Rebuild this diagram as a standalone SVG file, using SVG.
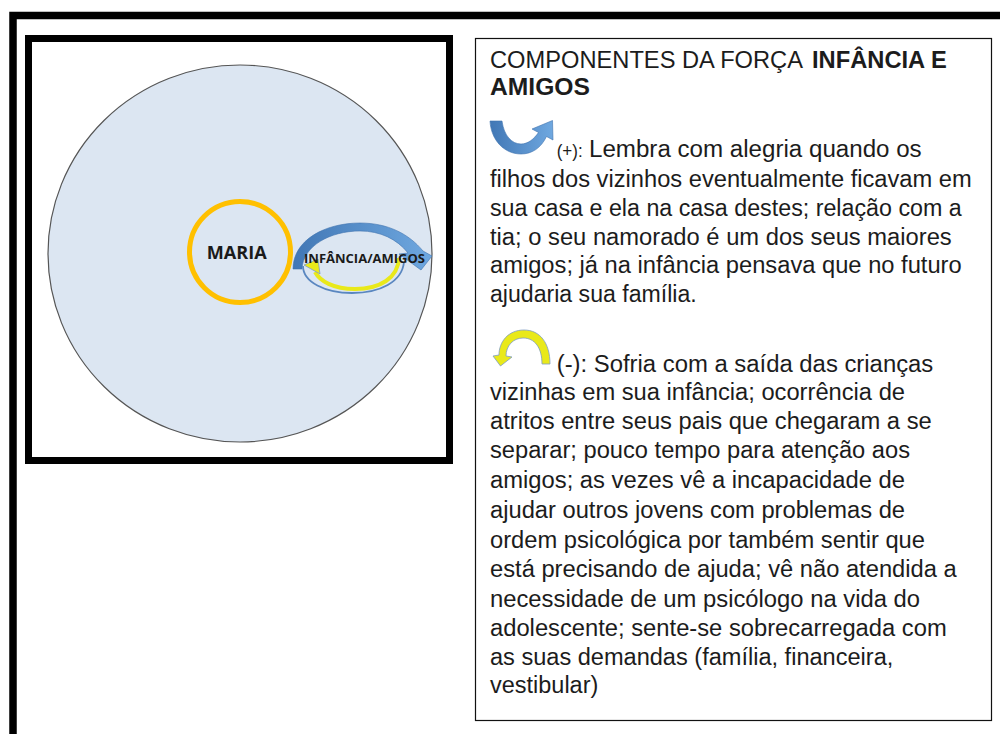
<svg xmlns="http://www.w3.org/2000/svg" width="1000" height="734" viewBox="0 0 1000 734">
<defs>
<linearGradient id="gBlue" x1="0" y1="0" x2="1" y2="0">
<stop offset="0" stop-color="#4177B5"/>
<stop offset="1" stop-color="#6FA8E0"/>
</linearGradient>
<style>
.t{font-family:"Liberation Sans",Arial,sans-serif;font-size:23.5px;fill:#1c1c1c}
.s{font-size:18px}
.b{font-weight:bold}
.lbl{font-family:"Open Sans","Liberation Sans",sans-serif;font-weight:bold;fill:#1a1a1a}
.blue{fill:url(#gBlue);stroke:#3E72AE;stroke-width:0.6}
.yel{fill:#E9E91A;stroke:#7E9CC4;stroke-width:0.8}
</style>
</defs>
<rect width="1000" height="734" fill="#ffffff"/>

<g id="frame">
<path d="M13 734 L13 15.5 L1000 15.5" fill="none" stroke="#000" stroke-width="7.5"/>
<rect x="28.5" y="38.5" width="421" height="422" fill="#fff" stroke="#000" stroke-width="7"/>
</g>

<g id="context">
<ellipse cx="240" cy="253.5" rx="192" ry="188.5" fill="#DCE6F2" stroke="#555" stroke-width="1.2"/>
</g>

<g id="node-maria">
<circle cx="240" cy="252" r="50.5" fill="none" stroke="#FFC000" stroke-width="5"/>
<text class="lbl" x="206.7" y="259" font-size="17" textLength="60" lengthAdjust="spacingAndGlyphs">MARIA</text>
</g>

<g id="connectors">
<path class="blue" d="M293 269 C293 240 325 223 360 223 C388 223 409 234 423 251 L432 256 L421 270 L399 254 L408 253 C397 239 380 231 360 231 C330 231 303 246 302 269 Z"/>
<path d="M303 266 C303 282 325 293 352 293 C380 293 402 282 404 262" fill="none" stroke="#5A87C0" stroke-width="1.8"/>
<path d="M399 258 C398 278 380 289 355 289 C333 289 320 281 315 272" fill="none" stroke="#E9E91A" stroke-width="4"/>
<polygon class="yel" points="304,265 318,259 320,274"/>
</g>

<g id="node-infancia">
<text class="lbl" x="304" y="262.7" font-size="12.5" textLength="121" lengthAdjust="spacingAndGlyphs">INFÂNCIA/AMIGOS</text>
</g>

<g id="legend">
<rect x="475.5" y="38.5" width="516" height="682" fill="#fff" stroke="#111" stroke-width="1.2"/>
<text class="t" x="490" y="68.3" textLength="313" lengthAdjust="spacingAndGlyphs">COMPONENTES DA FORÇA</text>
<text class="t b" x="812" y="68.3" textLength="134.7" lengthAdjust="spacingAndGlyphs">INFÂNCIA E</text>
<text class="t b" x="490" y="95" textLength="100" lengthAdjust="spacingAndGlyphs">AMIGOS</text>

<path class="blue" d="M490 121 L502 121 C504 136 512 144 521 144 C528 144 534 139 538.5 132.5 L532 129 L552.5 120.5 L553 140 L546.5 136.5 C541 148 532 154 521 154 C504 154 491 140 490 121 Z"/>
<text class="t s" x="556.7" y="156.7" textLength="26" lengthAdjust="spacingAndGlyphs">(+):</text>
<text class="t" x="589" y="156.7" textLength="332.7" lengthAdjust="spacingAndGlyphs">Lembra com alegria quando os</text>
<text class="t" x="490" y="186.7" textLength="481.7" lengthAdjust="spacingAndGlyphs">filhos dos vizinhos eventualmente ficavam em</text>
<text class="t" x="490" y="215.7" textLength="471.7" lengthAdjust="spacingAndGlyphs">sua casa e ela na casa destes; relação com a</text>
<text class="t" x="490" y="244.5" textLength="461.7" lengthAdjust="spacingAndGlyphs">tia; o seu namorado é um dos seus maiores</text>
<text class="t" x="490" y="273.3" textLength="471.7" lengthAdjust="spacingAndGlyphs">amigos; já na infância pensava que no futuro</text>
<text class="t" x="490" y="301.7" textLength="206.7" lengthAdjust="spacingAndGlyphs">ajudaria sua família.</text>

<path class="yel" d="M542 364 L550 364 C550 343 540 330 524 330 C508 330 499 342 499 355 L493 356 L500.5 366 L512 357 L506 356 C506 346 513 338 523 338 C535 338 542 348 542 364 Z"/>
<text class="t" x="556.7" y="371.7" textLength="376.6" lengthAdjust="spacingAndGlyphs">(-): Sofria com a saída das crianças</text>
<text class="t" x="490" y="400" textLength="415" lengthAdjust="spacingAndGlyphs">vizinhas em sua infância; ocorrência de</text>
<text class="t" x="490" y="429.3" textLength="441.7" lengthAdjust="spacingAndGlyphs">atritos entre seus pais que chegaram a se</text>
<text class="t" x="490" y="458.3" textLength="420" lengthAdjust="spacingAndGlyphs">separar; pouco tempo para atenção aos</text>
<text class="t" x="490" y="488.3" textLength="415" lengthAdjust="spacingAndGlyphs">amigos; as vezes vê a incapacidade de</text>
<text class="t" x="490" y="518.3" textLength="415" lengthAdjust="spacingAndGlyphs">ajudar outros jovens com problemas de</text>
<text class="t" x="490" y="547.7" textLength="435" lengthAdjust="spacingAndGlyphs">ordem psicológica por também sentir que</text>
<text class="t" x="490" y="576.7" textLength="466.7" lengthAdjust="spacingAndGlyphs">está precisando de ajuda; vê não atendida a</text>
<text class="t" x="490" y="606.7" textLength="430" lengthAdjust="spacingAndGlyphs">necessidade de um psicólogo na vida do</text>
<text class="t" x="490" y="636" textLength="456.7" lengthAdjust="spacingAndGlyphs">adolescente; sente-se sobrecarregada com</text>
<text class="t" x="490" y="665" textLength="403.3" lengthAdjust="spacingAndGlyphs">as suas demandas (família, financeira,</text>
<text class="t" x="490" y="693.3" textLength="108.3" lengthAdjust="spacingAndGlyphs">vestibular)</text>
</g>
</svg>
